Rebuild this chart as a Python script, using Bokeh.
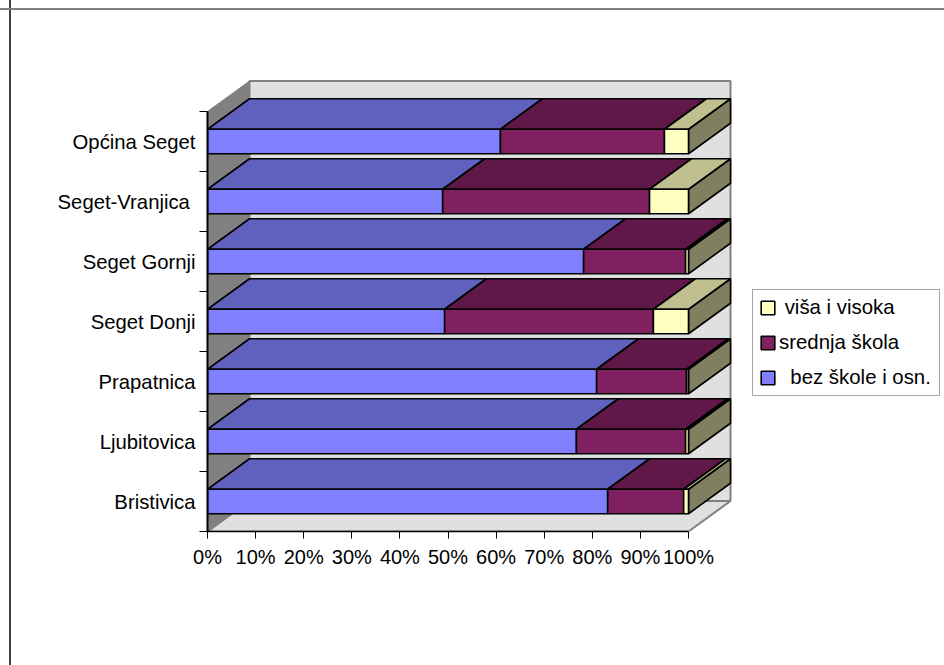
from bokeh.embed import file_html
from bokeh.resources import INLINE
from bokeh.plotting import figure
from bokeh.models import FixedTicker, Legend, LegendItem, PrintfTickFormatter

categories = ["Bristivica", "Ljubitovica", "Prapatnica", "Seget Donji",
              "Seget Gornji", "Seget-Vranjica\u00a0", "Općina Seget"]
bez_skole = [83.2, 76.7, 80.9, 49.3, 78.2, 48.9, 60.9]
srednja = [15.8, 22.7, 18.7, 43.4, 21.2, 43.0, 34.1]
visa = [1.0, 0.6, 0.4, 7.3, 0.6, 8.1, 5.0]
series_names = ["\u00a0\u00a0bez škole i osn.", "srednja škola", "\u00a0viša i visoka"]
x_ticks = [0, 10, 20, 30, 40, 50, 60, 70, 80, 90, 100]

FRONT = ["#8080FF", "#802060", "#FFFFC0"]
TOP = ["#6060BF", "#601848", "#BFBF90"]
SIDE = "#808060"
FONT = "Liberation Sans"
DX, DY = 42 / 4.81, 30.5 / 60    # depth of the 3-D box in axis units
HALF = 0.204                     # half bar thickness
n = len(categories)

p = figure(width=944, height=665, output_backend="svg", toolbar_location=None,
           x_range=(0, 737 / 4.81), y_range=(0, 531 / 60),
           x_axis_location="below", y_axis_location="left",
           min_border_left=207, min_border_right=0, min_border_top=0,
           min_border_bottom=134)
p.grid.visible = False
p.outline_line_color = None
p.background_fill_color = None
p.border_fill_color = None
# outer chart border: only its top and left edges are visible in the picture
p.styles = {
    "background-color": "white",
    "background-image": "linear-gradient(#808080,#808080),linear-gradient(#404040,#404040)",
    "background-size": "100% 2px, 2px 100%",
    "background-position": "0 8px, 9px 0",
    "background-repeat": "no-repeat",
}

# box walls
WALL = "#E0E0E0"
p.patch([DX, 100 + DX, 100 + DX, DX], [DY, DY, n + DY, n + DY],
        fill_color=WALL, line_color="#808080", line_width=2)
p.patch([0, 100, 100 + DX, DX], [0, 0, DY, DY],
        fill_color=WALL, line_color="#808080", line_width=2)
p.patch([0, DX, DX, 0], [0, DY, n + DY, n],
        fill_color="#808080", line_color="#808080", line_width=1)

values = [bez_skole, srednja, visa]
fronts = []
LW = 1.6
for i in range(n):
    yb, yt = i + 0.5 - HALF, i + 0.5 + HALF
    p.patch([100, 100 + DX, 100 + DX, 100], [yb, yb + DY, yt + DY, yt],
            fill_color=SIDE, line_color="black", line_width=LW)
left = [0.0] * n
for s, vals in enumerate(values):
    right = [a + b for a, b in zip(left, vals)]
    ys_b = [i + 0.5 - HALF for i in range(n)]
    ys_t = [i + 0.5 + HALF for i in range(n)]
    p.patches([[l, r, r + DX, l + DX] for l, r in zip(left, right)],
              [[t, t, t + DY, t + DY] for t in ys_t],
              fill_color=TOP[s], line_color="black", line_width=LW)
    fronts.append(p.quad(left=left, right=right, bottom=ys_b, top=ys_t,
                         fill_color=FRONT[s], line_color="black", line_width=LW))
    left = right

# axes
xa = p.xaxis[0]
xa.ticker = FixedTicker(ticks=x_ticks)
xa.formatter = PrintfTickFormatter(format="%d%%")
xa.bounds = (0, 100)
xa.major_tick_out = 7
xa.major_tick_in = 0
xa.minor_tick_line_color = None
xa.axis_line_color = "black"
xa.axis_line_width = 1.5
xa.major_tick_line_color = "black"
xa.major_label_text_font = FONT
xa.major_label_text_font_size = "20px"
xa.major_label_text_color = "black"
xa.major_label_standoff = 7

ya = p.yaxis[0]
centers = [i + 0.5 for i in range(n)]
ya.ticker = FixedTicker(ticks=centers, minor_ticks=list(range(n + 1)))
ya.major_label_overrides = {c: t for c, t in zip(centers, categories)}
ya.bounds = (0, n)
ya.major_tick_line_color = None
ya.major_tick_out = 0
ya.major_tick_in = 0
ya.minor_tick_out = 8
ya.minor_tick_in = 0
ya.minor_tick_line_color = "black"
ya.axis_line_color = "black"
ya.axis_line_width = 2
ya.major_label_text_font = FONT
ya.major_label_text_font_size = "20.3px"
ya.major_label_text_color = "black"
ya.major_label_standoff = 4

# legend
legend = Legend(
    items=[LegendItem(label=series_names[s], renderers=[fronts[s]]) for s in (2, 1, 0)],
    location=(545, 135), orientation="vertical", margin=0, padding=6,
    spacing=12, glyph_width=17, glyph_height=17, label_standoff=3,
    label_width=154, label_height=22, label_text_font=FONT, label_text_font_size="20.4px",
    label_text_color="black", border_line_color="#505050", border_line_width=1.5,
    background_fill_color="white", background_fill_alpha=1.0)
p.add_layout(legend, "center")

open("out.html", "w").write(file_html(p, INLINE))
